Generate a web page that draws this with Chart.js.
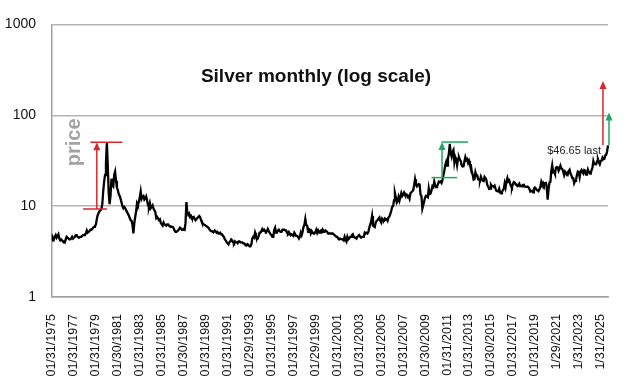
<!DOCTYPE html>
<html>
<head>
<meta charset="utf-8">
<script src="https://cdn.jsdelivr.net/npm/chart.js@4.4.1/dist/chart.umd.min.js"></script>
<style>
  html, body { margin: 0; padding: 0; background: #fff; }
  #wrap { width: 628px; height: 376px; position: relative; }
</style>
</head>
<body>
<div id="wrap"><canvas id="silverChart"></canvas></div>
<script>
// month-end silver price, USD/oz (Jan 1975 .. Sep 2025)
const silver1975to1984 = [
  4.2, 4.5, 4.3, 4.6, 4.8, 4.5, 4.7, 4.9, 4.4, 4.2, 4.3, 4.2,
  4.1, 4.1, 4.0, 4.3, 4.6, 4.5, 4.4, 4.3, 4.3, 4.4, 4.6, 4.4,
  4.4, 4.6, 4.8, 4.8, 4.6, 4.5, 4.5, 4.6, 4.6, 4.7, 4.8, 4.8,
  4.9, 5.0, 5.4, 5.1, 5.2, 5.3, 5.5, 5.5, 5.6, 5.8, 5.9, 6.0,
  6.3, 7.2, 8.0, 8.4, 8.8, 9.0, 9.3, 10.5, 14.5, 18.6, 22.0, 30.0,
  50.0, 28.0, 14.0, 10.5, 13.0, 20.0, 17.0, 16.5, 22.0, 24.0, 19.0, 16.0,
  15.0, 13.5, 13.0, 12.0, 11.0, 10.0, 9.5, 9.8, 9.5, 9.0, 8.6, 8.3,
  7.9, 7.4, 7.0, 6.9, 6.2, 5.0, 6.5, 7.6, 8.8, 10.8, 10.3, 11.2,
  12.5, 14.5, 12.0, 12.6, 12.9, 11.8, 12.2, 12.8, 11.5, 10.2, 9.8, 10.8,
  9.5, 9.8, 10.2, 9.4, 9.0, 8.6, 7.4, 7.6, 7.3, 7.1, 7.2, 6.5
];
const silver1985to1994 = [
  6.3, 6.1, 6.6, 6.3, 6.2, 6.1, 6.3, 6.3, 6.1, 6.0, 6.0, 5.9,
  5.9, 5.7, 5.4, 5.2, 5.2, 5.3, 5.4, 5.6, 5.8, 5.7, 5.5, 5.5,
  5.6, 5.5, 6.5, 11.1, 8.4, 8.0, 8.3, 7.6, 7.8, 7.4, 7.5, 7.6,
  7.2, 7.0, 7.2, 7.4, 7.6, 7.8, 7.6, 7.0, 6.6, 6.4, 6.3, 6.2,
  6.1, 6.0, 5.9, 5.8, 5.6, 5.4, 5.3, 5.3, 5.2, 5.2, 5.4, 5.3,
  5.1, 5.2, 5.0, 5.0, 5.1, 4.9, 4.9, 4.7, 4.6, 4.3, 4.2, 4.0,
  3.9, 3.8, 4.0, 4.1, 4.3, 4.2, 4.0, 3.9, 4.1, 4.0, 4.0, 3.9,
  4.1, 4.1, 4.0, 4.0, 4.0, 3.9, 3.9, 3.8, 3.8, 3.7, 3.8, 3.7,
  3.6, 3.6, 3.8, 4.4, 4.6, 4.5, 5.1, 4.7, 4.3, 4.4, 4.7, 5.1,
  5.1, 5.3, 5.6, 5.4, 5.5, 5.3, 5.2, 5.3, 5.6, 5.3, 5.1, 4.9
];
const silver1995to2004 = [
  4.8, 4.6, 4.6, 5.5, 5.8, 5.1, 5.2, 5.4, 5.5, 5.3, 5.2, 5.2,
  5.5, 5.5, 5.5, 5.4, 5.4, 5.1, 5.0, 5.2, 5.0, 4.8, 4.9, 4.8,
  4.7, 5.1, 4.9, 4.7, 4.7, 4.6, 4.4, 4.6, 5.1, 4.8, 5.2, 5.9,
  6.2, 7.2, 6.2, 6.1, 5.2, 5.6, 5.5, 5.0, 5.3, 5.1, 5.0, 5.0,
  5.2, 5.5, 5.1, 5.4, 5.1, 5.3, 5.4, 5.2, 5.5, 5.2, 5.2, 5.4,
  5.3, 5.2, 5.0, 5.0, 5.0, 5.0, 5.0, 5.0, 4.9, 4.8, 4.7, 4.6,
  4.6, 4.4, 4.3, 4.4, 4.4, 4.3, 4.3, 4.2, 4.6, 4.3, 4.1, 4.6,
  4.3, 4.4, 4.6, 4.6, 4.8, 4.9, 4.6, 4.5, 4.5, 4.4, 4.6, 4.7,
  4.8, 4.6, 4.5, 4.6, 4.6, 4.6, 5.1, 5.0, 5.1, 5.0, 5.2, 5.8,
  6.3, 6.8, 7.8, 6.1, 6.0, 5.9, 6.6, 6.9, 7.0, 7.3, 7.5, 6.9
];
const silver2005to2014 = [
  6.6, 7.3, 7.1, 7.0, 7.3, 7.1, 7.2, 6.9, 7.5, 7.7, 8.2, 8.9,
  9.8, 10.0, 11.6, 13.9, 12.5, 10.9, 11.3, 12.6, 11.5, 12.6, 13.9, 12.9,
  13.4, 14.1, 13.4, 13.5, 13.4, 12.6, 12.9, 12.1, 13.9, 14.2, 14.6, 15.0,
  17.0, 19.8, 17.4, 16.5, 17.0, 17.5, 17.3, 13.4, 12.9, 9.4, 10.3, 11.3,
  12.5, 13.0, 13.0, 12.5, 15.6, 13.6, 13.8, 14.9, 16.6, 16.2, 18.6, 17.0,
  16.2, 16.4, 17.5, 18.6, 18.4, 18.7, 18.0, 19.4, 21.8, 24.5, 28.2, 30.6,
  27.9, 33.3, 37.9, 48.6, 38.3, 35.0, 39.9, 41.7, 30.4, 34.7, 32.7, 28.2,
  33.1, 34.6, 32.5, 31.2, 28.0, 27.3, 27.4, 31.0, 34.6, 32.1, 32.9, 30.0,
  31.6, 28.6, 28.3, 24.1, 22.2, 19.6, 19.8, 23.6, 21.7, 21.8, 19.7, 19.5,
  19.2, 21.1, 19.8, 19.1, 18.9, 21.0, 20.4, 19.4, 17.1, 16.4, 15.5, 15.6
];
const silver2015to2025 = [
  17.2, 16.6, 16.6, 16.3, 16.8, 15.6, 14.7, 14.6, 14.5, 15.5, 14.1, 13.8,
  14.2, 15.0, 15.4, 17.8, 16.1, 18.7, 20.4, 18.7, 19.2, 17.7, 16.5, 16.0,
  17.5, 18.4, 18.2, 17.3, 17.3, 16.6, 16.8, 17.6, 16.6, 16.7, 16.5, 17.1,
  17.2, 16.4, 16.3, 16.3, 16.4, 16.1, 15.5, 14.5, 14.7, 14.7, 14.2, 15.5,
  16.0, 15.6, 15.1, 14.9, 14.6, 15.3, 16.3, 18.4, 17.0, 18.0, 17.0, 17.9,
  18.0, 16.6, 11.8, 15.2, 18.2, 18.5, 24.4, 28.2, 23.6, 23.9, 22.6, 26.4,
  26.9, 26.7, 24.5, 25.9, 27.9, 26.1, 25.5, 24.0, 22.0, 24.0, 23.1, 23.3,
  22.4, 24.3, 25.1, 22.8, 21.8, 20.3, 20.3, 17.9, 19.0, 19.2, 22.0, 24.0,
  23.6, 20.9, 24.1, 25.0, 23.6, 22.8, 24.9, 24.5, 22.3, 22.9, 25.3, 23.8,
  22.9, 22.7, 24.9, 26.4, 31.4, 29.1, 29.0, 28.9, 31.1, 32.7, 30.3, 28.9,
  31.3, 31.7, 34.1, 32.7, 33.0, 36.1, 36.7, 40.0, 46.65
];

// one label every 24 months, as printed under the axis
const tickLabels = [
  '01/31/1975', '01/31/1977', '01/31/1979', '01/30/1981', '01/31/1983',
  '01/31/1985', '01/30/1987', '01/31/1989', '01/31/1991', '01/29/1993',
  '01/31/1995', '01/31/1997', '01/29/1999', '01/31/2001', '01/31/2003',
  '01/31/2005', '01/31/2007', '01/30/2009', '01/31/2011', '01/31/2013',
  '01/30/2015', '01/31/2017', '01/31/2019', '1/29/2021', '1/31/2023', '1/31/2025'
];
const yTicks = [1, 10, 100, 1000];

// 1979-80 move (red) and 2010-11 move (green): month index range and price levels
const redLowRange = [34, 60];
const redHighRange = [42, 77];
const redMove = [9.3, 50.5];   // low, high
const redArrowAt = 49;
const greenLowRange = [415, 443];
const greenHighRange = [426, 455];
const greenMove = [20.6, 50.7];
const greenArrowAt = 426.5;
// same moves projected from the last price
const lastPrice = 46.65;
const redTarget = 238;
const greenTarget = 107;

const prices = [].concat(silver1975to1984, silver1985to1994, silver1995to2004,
  silver2005to2014, silver2015to2025);
const months = prices.map((_, i) => `${1975 + Math.floor(i / 12)}-${String((i % 12) + 1).padStart(2, '0')}`);

const FONT = "'Liberation Sans', Arial, sans-serif";
const RED = '#d9262b';
const GREEN = '#1fa463';

const arrow = (ctx, x, y0, y1, color) => {
  ctx.strokeStyle = color;
  ctx.fillStyle = color;
  ctx.lineWidth = 1.5;
  ctx.beginPath();
  ctx.moveTo(x, y0);
  ctx.lineTo(x, y1 + 6);
  ctx.stroke();
  ctx.beginPath();
  ctx.moveTo(x, y1);
  ctx.lineTo(x - 3.5, y1 + 8);
  ctx.lineTo(x + 3.5, y1 + 8);
  ctx.closePath();
  ctx.fill();
};

const hline = (ctx, x0, x1, y, color) => {
  ctx.strokeStyle = color;
  ctx.lineWidth = 1.5;
  ctx.beginPath();
  ctx.moveTo(x0, y);
  ctx.lineTo(x1, y);
  ctx.stroke();
};

const overlay = {
  id: 'overlay',
  afterDatasetsDraw(chart) {
    const { ctx, chartArea, scales: { x, y } } = chart;
    ctx.save();

    // title inside the plot
    ctx.fillStyle = '#111';
    ctx.font = `bold 19px ${FONT}`;
    ctx.textAlign = 'center';
    ctx.textBaseline = 'alphabetic';
    ctx.fillText('Silver monthly (log scale)', chart.width / 2 + 2, chartArea.top + 58);

    // "price" label
    ctx.save();
    ctx.translate(chartArea.left + 28, chartArea.top + 118);
    ctx.rotate(-Math.PI / 2);
    ctx.fillStyle = '#a3a3a3';
    ctx.font = `bold 20px ${FONT}`;
    ctx.textAlign = 'center';
    ctx.fillText('price', 0, 0);
    ctx.restore();

    // red bracket
    hline(ctx, x.getPixelForValue(redHighRange[0]), x.getPixelForValue(redHighRange[1]), y.getPixelForValue(redMove[1]), RED);
    hline(ctx, x.getPixelForValue(redLowRange[0]), x.getPixelForValue(redLowRange[1]), y.getPixelForValue(redMove[0]), RED);
    arrow(ctx, x.getPixelForValue(redArrowAt), y.getPixelForValue(redMove[0]), y.getPixelForValue(redMove[1]), RED);

    // green bracket
    hline(ctx, x.getPixelForValue(greenHighRange[0]), x.getPixelForValue(greenHighRange[1]), y.getPixelForValue(greenMove[1]), GREEN);
    hline(ctx, x.getPixelForValue(greenLowRange[0]), x.getPixelForValue(greenLowRange[1]), y.getPixelForValue(greenMove[0]), GREEN);
    arrow(ctx, x.getPixelForValue(greenArrowAt), y.getPixelForValue(greenMove[0]), y.getPixelForValue(greenMove[1]), GREEN);

    // projections from the last price
    const lastIdx = prices.length - 1;
    const lastX = x.getPixelForValue(lastIdx);
    const lastY = y.getPixelForValue(lastPrice);
    arrow(ctx, x.getPixelForValue(lastIdx - 5.5), lastY, y.getPixelForValue(redTarget), RED);
    arrow(ctx, lastX + 1, lastY, y.getPixelForValue(greenTarget), GREEN);

    ctx.fillStyle = '#222';
    ctx.font = `11px ${FONT}`;
    ctx.textAlign = 'right';
    ctx.fillText(`$${lastPrice} last`, lastX - 7, lastY + 9);

    ctx.restore();
  },
};

new Chart(document.getElementById('silverChart'), {
  type: 'line',
  data: {
    labels: months,
    datasets: [{
      data: prices,
      borderColor: '#000',
      borderWidth: 2.3,
      pointRadius: 0,
      tension: 0,
    }],
  },
  options: {
    responsive: true,
    maintainAspectRatio: false,
    animation: false,
    layout: { padding: { top: 20, right: 20, left: 0, bottom: 0 } },
    plugins: { legend: { display: false }, tooltip: { enabled: false } },
    scales: {
      x: {
        type: 'category',
        offset: false,
        grid: { display: false },
        border: { display: true, color: '#a0a0a0', width: 1.5 },
        afterBuildTicks: (scale) => {
          scale.ticks = scale.ticks.filter((t) => t.value % 24 === 0);
        },
        afterFit: (scale) => { scale.height = 79; },
        ticks: {
          autoSkip: false,
          minRotation: 90,
          maxRotation: 90,
          padding: 9,
          color: '#111',
          font: { family: FONT, size: 12.5 },
          callback: (value) => tickLabels[value / 24],
        },
      },
      y: {
        type: 'logarithmic',
        min: 1,
        max: 1000,
        grid: { color: '#b4b4b4', lineWidth: 1.5, drawTicks: false },
        border: { display: true, color: '#a0a0a0', width: 1.5 },
        afterBuildTicks: (scale) => {
          scale.ticks = yTicks.map((v) => ({ value: v, major: true }));
        },
        afterFit: (scale) => { scale.width = 52; },
        ticks: {
          padding: 16,
          color: '#111',
          font: { family: FONT, size: 14 },
          callback: (value) => String(value),
        },
      },
    },
  },
  plugins: [overlay],
});
</script>
</body>
</html>
